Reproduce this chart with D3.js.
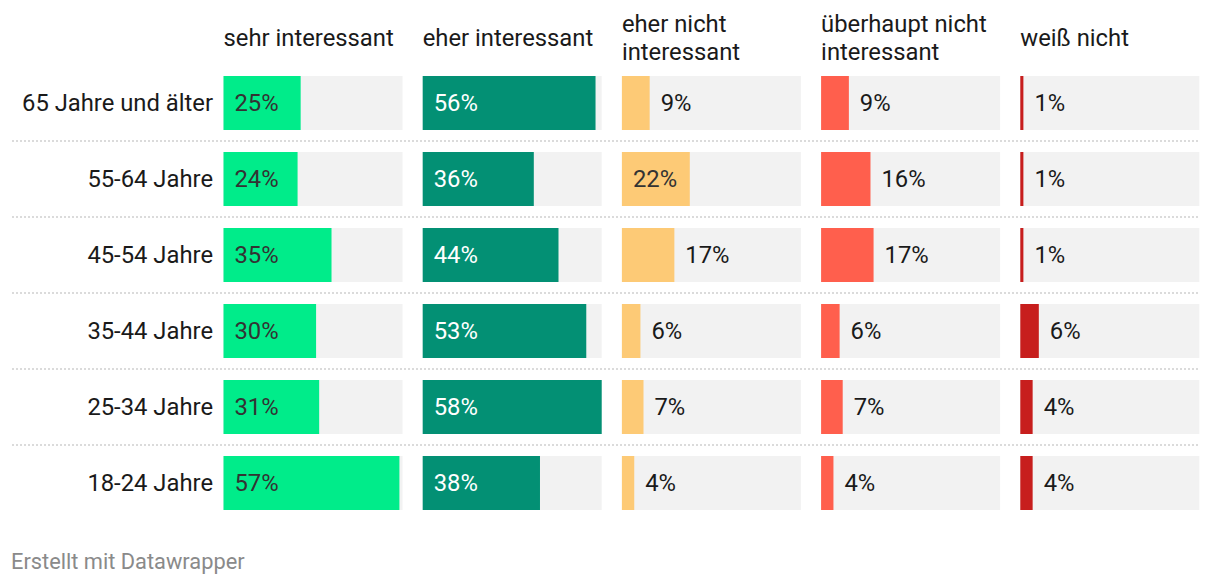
<!DOCTYPE html>
<html><head><meta charset="utf-8">
<script src="https://cdn.jsdelivr.net/npm/d3@7"></script>
<style>body{margin:0;background:#fff;font-family:Roboto,"Noto Sans",sans-serif;}</style>
</head><body><svg id="c" width="1220" height="586"></svg>
<script>
const rows = ["65 Jahre und älter","55-64 Jahre","45-54 Jahre","35-44 Jahre","25-34 Jahre","18-24 Jahre"];
const columns = [["sehr interessant"],["eher interessant"],["eher nicht","interessant"],["überhaupt nicht","interessant"],["weiß nicht"]];
const sehr = [25,24,35,30,31,57];
const eher = [56,36,44,53,58,38];
const eherNicht = [9,22,17,6,7,4];
const ueberhauptNicht = [9,16,17,6,7,4];
const weissNicht = [1,1,1,6,4,4];
const seriesValues = [sehr, eher, eherNicht, ueberhauptNicht, weissNicht];
const colors = ["#00ec8a","#039074","#fdca76","#ff5f4d","#c71e1d"];
const insideText = ["#333","#fff","#333","#333","#fff"];

const svg = d3.select("#c");
const colW = 179;
const FS = 23.8;
const x = d3.scaleLinear().domain([0,58]).range([0,colW]);
const yPos = i => 76 + i*76;
const bh = 54;

rows.slice(1).forEach((r,i)=>{
  const yy = yPos(i+1) - 11;
  svg.append("line").attr("x1",12).attr("x2",1200).attr("y1",yy).attr("y2",yy)
    .attr("stroke","#cfcfcf").attr("stroke-width",1.3).attr("stroke-dasharray","2,2");
});

columns.forEach((lines,ci)=>{
  const x0 = 223.5 + ci*199.2;
  lines.forEach((t,li)=>{
    svg.append("text").attr("x",x0).attr("y",46 - (lines.length-1)*14 + li*28)
      .attr("font-size",FS).attr("fill","#1a1a1a").text(t);
  });
});

rows.forEach((r,i)=>{
  svg.append("text").attr("x",213).attr("y",yPos(i)+bh/2).attr("dy","0.34em")
    .attr("text-anchor","end").attr("font-size",FS).attr("fill","#1a1a1a").text(r);
});

seriesValues.forEach((vals,ci)=>{
  const x0 = 223.5 + ci*199.2;
  const g = svg.append("g").attr("transform",`translate(${x0},0)`);
  vals.forEach((v,i)=>{
    g.append("rect").attr("x",0).attr("y",yPos(i)).attr("width",colW).attr("height",bh).attr("fill","#f2f2f2");
    const w = x(v);
    g.append("rect").attr("x",0).attr("y",yPos(i)).attr("width",w).attr("height",bh).attr("fill",colors[ci]);
    const t = g.append("text").attr("y",yPos(i)+bh/2).attr("dy","0.34em")
      .attr("font-size",FS).attr("fill","#1a1a1a").text(v+"%");
    const tw = t.node().getComputedTextLength();
    if (w > tw + 20) t.attr("x",11).attr("fill",insideText[ci]);
    else t.attr("x",w+11);
  });
});

svg.append("text").attr("x",11).attr("y",569).attr("font-size",21.8).attr("fill","#8a8a8a").text("Erstellt mit Datawrapper");
</script></body></html>
